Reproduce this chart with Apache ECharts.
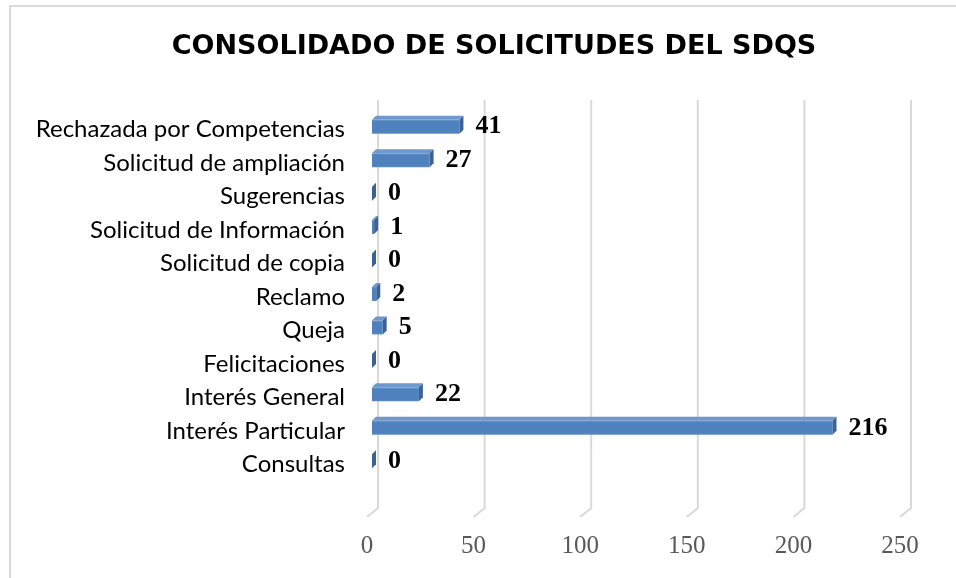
<!DOCTYPE html>
<html>
<head>
<meta charset="utf-8">
<script src="https://cdn.jsdelivr.net/npm/echarts@6/dist/echarts.min.js"></script>
<style>html,body{margin:0;padding:0;background:#fff;}#c{width:956px;height:578px;}</style>
</head>
<body>
<div id="c"></div>
<script>
const categories = ['Consultas','Interés Particular','Interés General','Felicitaciones','Queja','Reclamo','Solicitud de copia','Solicitud de Información','Sugerencias','Solicitud de ampliación','Rechazada por Competencias'];
const values = [0,216,22,0,5,2,0,1,0,27,41];
const xTicks = [0,50,100,150,200,250];
const titleText = 'CONSOLIDADO DE SOLICITUDES DEL SDQS';

const chart = echarts.init(document.getElementById('c'), null, {renderer:'canvas'});

function renderGrid(params, api){
  const v = api.value(0);
  const t = api.coord([v, 1]);
  const b = api.coord([v, 0]);
  return {type:'polyline', shape:{points:[[t[0],t[1]],[b[0],b[1]],[b[0]-11,b[1]+9]]},
    style:{stroke:'#D9D9D9', lineWidth:2, fill:null}};
}

function renderBar(params, api){
  const v = api.value(0), ci = api.value(1);
  const p0 = api.coord([0, ci]), p1 = api.coord([v, ci]);
  const sx = -6, d = 4, h = 14;
  const yc = p0[1] - 3;
  const x0 = p0[0] + sx, x1 = p1[0] + sx;
  const yt = yc - h/2, yb = yc + h/2;
  return {type:'group', children:[
    {type:'rect', shape:{x:x0, y:yt, width:Math.max(0,x1-x0), height:h},
      style:{fill:new echarts.graphic.LinearGradient(0,0,0,1,[{offset:0,color:'#6A96CF'},{offset:0.15,color:'#4F81BD'},{offset:0.85,color:'#4F81BD'},{offset:1,color:'#5E8CC6'}])}},
    {type:'polygon', shape:{points:[[x0,yt],[x1,yt],[x1+d,yt-d],[x0+d,yt-d]]}, style:{fill:'#6F98CC'}},
    {type:'polygon', shape:{points:[[x1,yt],[x1+d,yt-d],[x1+d,yb-d],[x1,yb]]}, style:{fill:'#3A6296'}},
    {type:'text', style:{x:x1+d+12, y:yc, text:String(v), fill:'#000',
      font:'bold 26px "Liberation Serif", serif', textAlign:'left', textVerticalAlign:'middle'}}
  ]};
}

chart.setOption({
  animation:false,
  backgroundColor:'#fff',
  graphic:[{type:'rect', shape:{x:10,y:6,width:1000,height:1000}, style:{fill:null, stroke:'#D9D9D9', lineWidth:2}, silent:true}],
  title:{text:titleText, left:489, top:26, textAlign:'center',
    textStyle:{fontFamily:'DejaVu Sans', fontWeight:'bold', fontSize:27, lineHeight:32, color:'#000'}},
  grid:[
    {left:378, right:45, top:100, bottom:70, outerBoundsMode:'none', containLabel:false},
    {left:378, right:45, top:113, bottom:97, outerBoundsMode:'none', containLabel:false}
  ],
  xAxis:[
    {gridIndex:0, type:'value', min:0, max:250, interval:50,
      axisLine:{show:false}, axisTick:{show:false}, splitLine:{show:false},
      axisLabel:{margin:26, padding:[0,22,0,0], color:'#595959', fontFamily:'Liberation Serif', fontSize:25}},
    {gridIndex:1, type:'value', min:0, max:250, show:false}
  ],
  yAxis:[
    {gridIndex:0, type:'value', min:0, max:1, show:false},
    {gridIndex:1, type:'category', data:categories,
      axisLine:{show:false}, axisTick:{show:false}, splitLine:{show:false},
      axisLabel:{interval:0, margin:33, color:'#000', fontFamily:'Lato, "Liberation Sans", sans-serif', fontSize:24}}
  ],
  series:[
    {type:'custom', xAxisIndex:0, yAxisIndex:0, data:xTicks.map(v=>[v]), renderItem:renderGrid, clip:false, silent:true, z:1},
    {type:'custom', xAxisIndex:1, yAxisIndex:1, data:values.map((v,i)=>[v,i]), encode:{x:0,y:1}, renderItem:renderBar, clip:false, silent:true, z:2}
  ]
});
</script>
</body>
</html>
